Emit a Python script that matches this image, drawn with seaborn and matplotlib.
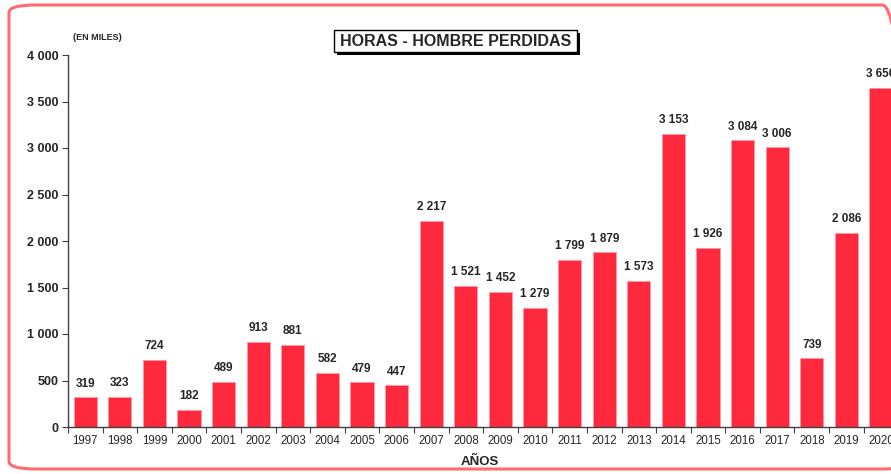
import numpy as np
import pandas as pd
import seaborn as sns
import matplotlib.pyplot as plt
from matplotlib.patches import FancyBboxPatch, Rectangle
from matplotlib.ticker import FuncFormatter, FixedLocator

years = ['1997', '1998', '1999', '2000', '2001', '2002', '2003', '2004', '2005', '2006',
         '2007', '2008', '2009', '2010', '2011', '2012', '2013', '2014', '2015', '2016',
         '2017', '2018', '2019', '2020']
hours = [319, 323, 724, 182, 489, 913, 881, 582, 479, 447,
         2217, 1521, 1452, 1279, 1799, 1879, 1573, 3153, 1926, 3084,
         3006, 739, 2086, 3650]

sns.set_theme(style='white')
plt.rcParams['font.family'] = ['Liberation Sans', 'DejaVu Sans']

def fmt(v):
	return f'{int(v):,}'.replace(',', ' ')

df = pd.DataFrame({'year': years, 'hours': hours})

W, H = 891, 474
fig = plt.figure(figsize=(W/100, H/100), dpi=100)
ax = fig.add_axes([68/W, 47/H, 1 - 68/W, 372/H])

sns.barplot(data=df, x='year', y='hours', color='#FF293D', saturation=1, width=0.67,
	edgecolor='#FF9AA2', linewidth=0.6, ax=ax)

ax.set_ylim(0, 4000)
ax.set_xlim(-0.5, 23.29)
ax.set_yticks(np.arange(0, 4001, 500))
ax.yaxis.set_major_formatter(FuncFormatter(lambda v, p: fmt(v)))
for lbl in ax.get_yticklabels():
	lbl.set_fontweight('bold')
ax.tick_params(axis='y', labelsize=9, length=4, width=0.8, color='#404040', left=True, pad=3)
ax.tick_params(axis='x', labelsize=8.3, length=0, pad=6)
ax.xaxis.set_minor_locator(FixedLocator(np.arange(-0.5, 24, 1)))
ax.tick_params(axis='x', which='minor', bottom=True, length=4, width=0.8, color='#404040')

for s in ['top', 'right']:
	ax.spines[s].set_visible(False)
for s in ['left', 'bottom']:
	ax.spines[s].set_color('#404040')
	ax.spines[s].set_linewidth(1.0)

ax.set_xlabel('AÑOS', fontsize=9.5, fontweight='bold', labelpad=6)
ax.set_ylabel('')

for i, v in enumerate(hours):
	ax.annotate(fmt(v), (i, v), xytext=(0, 5.5), textcoords='offset points',
		ha='center', va='bottom', fontsize=8.5, fontweight='bold', annotation_clip=False)

fig.text(73/W, 1 - 38/H, '(EN MILES)', fontsize=6.5, fontweight='bold', va='center')

# title box with drop shadow
fig.patches.append(Rectangle((337/W, 1 - 55/H), 243/W, 22/H, transform=fig.transFigure,
	facecolor='black', edgecolor='none', zorder=1))
fig.patches.append(Rectangle((334/W, 1 - 52/H), 243/W, 22/H, transform=fig.transFigure,
	facecolor='white', edgecolor='black', linewidth=1.0, zorder=2))
fig.text(455.5/W, 1 - 41/H, 'HORAS - HOMBRE PERDIDAS', fontsize=11.5, fontweight='bold',
	ha='center', va='center', zorder=3)

border = FancyBboxPatch((9/W, 5/H), 900/W, 464/H,
	boxstyle='round,pad=0,rounding_size=0.03', transform=fig.transFigure,
	facecolor='none', edgecolor='#FF6B73', linewidth=2.2, mutation_aspect=H/W)
fig.patches.append(border)

fig.savefig('out.png', dpi=100)
